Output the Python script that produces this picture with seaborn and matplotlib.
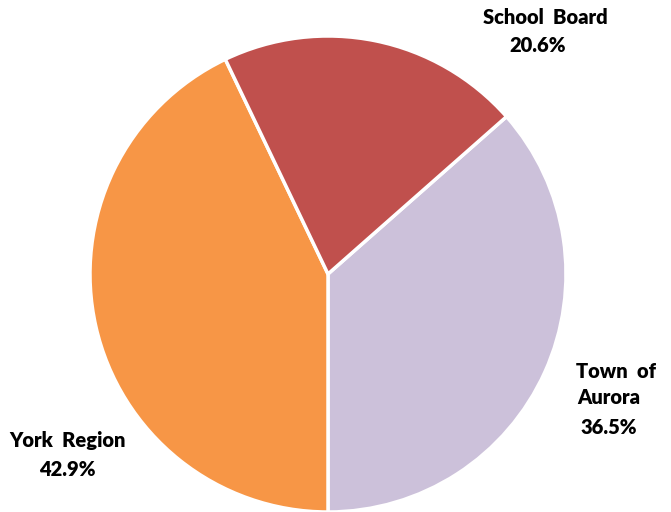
import matplotlib
matplotlib.use("Agg")
import matplotlib.pyplot as plt
import seaborn as sns

labels = ["Town of Aurora", "York Region", "School Board"]
shares = [36.5, 42.9, 20.6]
colors = ["#CCC1DA", "#F79646", "#C0504D"]

sns.set_theme(style="white")
plt.rcParams['font.family'] = ['Lato', 'DejaVu Sans']

fig = plt.figure(figsize=(6.71, 5.12), dpi=100)
ax = fig.add_axes([0, 0, 1, 1])
cx, cy, r = 328, 274, 238
W, H = 671, 512

start = -90 + shares[0] * 3.6
ax.pie(shares, colors=colors, startangle=start, counterclock=False,
       radius=1, center=(0, 0),
       wedgeprops=dict(edgecolor="white", linewidth=2.5))
ax.set_xlim(-cx / r, (W - cx) / r)
ax.set_ylim(-(H - cy) / r, cy / r)
ax.set_aspect('auto')
ax.axis('off')

def px(x, y):
    return (x - cx) / r, (cy - y) / r

texts = [
    ("School  Board", 545, 17), (f"{shares[2]}%", 538, 46),
    ("Town  of", 616, 371), ("Aurora", 609, 398), (f"{shares[0]}%", 609, 428),
    ("York  Region", 68, 440), (f"{shares[1]}%", 67, 469),
]
for t, x, y in texts:
    dx, dy = px(x, y)
    ax.text(dx, dy, t, ha="center", va="center", fontsize=14.5,
            fontweight="heavy", color="black")

fig.savefig("out.png", dpi=100)
